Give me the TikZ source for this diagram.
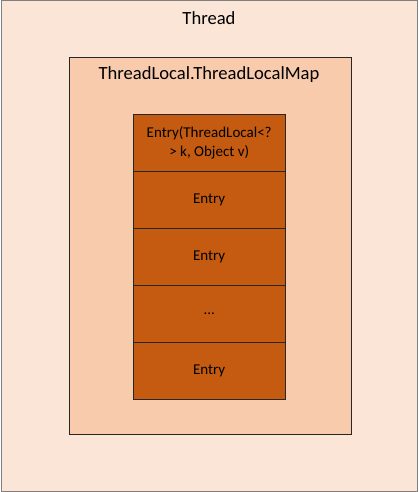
\documentclass[tikz,border=0pt]{standalone}
\usepackage{fontspec}
\setmainfont{Carlito}
\usetikzlibrary{positioning}
\definecolor{threadfill}{HTML}{FBE5D6}
\definecolor{mapfill}{HTML}{F8CBAD}
\definecolor{entryfill}{HTML}{C55A11}

\begin{document}
\begin{tikzpicture}[x=1pt,y=-1pt,
		outer/.style={rectangle,draw=black!50,line width=1pt,fill=threadfill,anchor=north west,minimum width=416pt,minimum height=490pt},
		mapbox/.style={rectangle,draw=black!85,fill=mapfill,anchor=north west,minimum width=282pt,minimum height=377pt},
		entry/.style={rectangle,draw=black!85,fill=entryfill,inner sep=0pt,align=center,
			minimum width=152pt,minimum height=56.6pt,font=\fontsize{15}{19}\selectfont},
		title/.style={font=\fontsize{18.6}{20}\selectfont}]
		\useasboundingbox (0,0) rectangle (418,492);
		% Containers
		\node[outer] (thread) at (0.5,0.5) {};
		\node[title] (threadtitle) at (209,18) {Thread};
		\node[mapbox] (map) at (69,57) {};
		\node[title] (maptitle) at (209,75) {ThreadLocal.ThreadLocalMap};
		% Entries
		\node[entry,anchor=north west] (head) at (133,114) {Entry(ThreadLocal<?\\> k, Object v)};
		\node[entry,below=0pt of head] (entry1) {Entry};
		\node[entry,below=0pt of entry1] (entry2) {Entry};
		\node[entry,below=0pt of entry2] (dots) {...};
		\node[entry,below=0pt of dots] (entry3) {Entry};
\end{tikzpicture}
\end{document}
